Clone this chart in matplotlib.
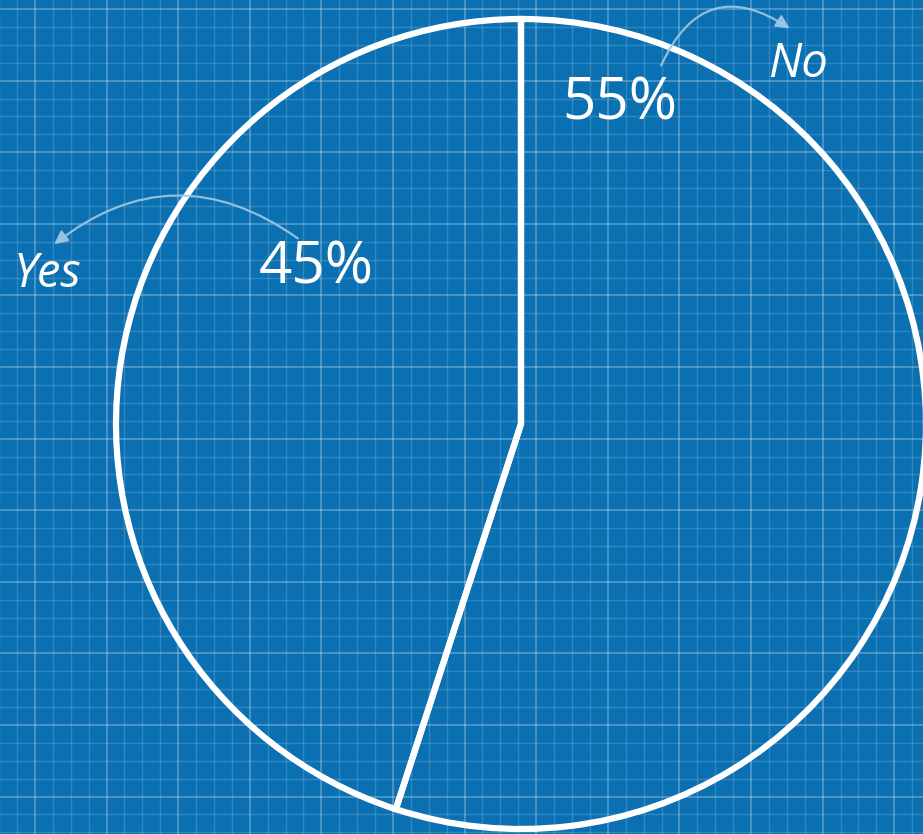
import numpy as np
import matplotlib.pyplot as plt
from matplotlib.patches import FancyArrowPatch

# ── Data ─────────────────────────────────────────────────────────────────────
labels = ['No', 'Yes']
values = [55, 45]
pct_text = [f'{v}%' for v in values]

BG = '#0a70b2'
W, H = 923, 834

fig = plt.figure(figsize=(W / 100, H / 100), dpi=100)
fig.patch.set_facecolor(BG)
ax = fig.add_axes([0, 0, 1, 1])
ax.set_facecolor(BG)

# ── Blueprint grid ────────────────────────────────────────────────────────────
step = 17.9
for i, x in enumerate(np.arange(35 - 2 * step, W, step)):
    major = (i % 4) == 2
    ax.axvline(x, color='white', lw=1.3 if major else 1.0,
               alpha=0.28 if major else 0.16, zorder=0)
for i, y in enumerate(np.arange(9, H, step)):
    major = (i % 4) == 0
    ax.axhline(y, color='white', lw=1.3 if major else 1.0,
               alpha=0.28 if major else 0.16, zorder=0)

# ── Pie (y axis runs downward, so angles are mirrored) ────────────────────────
ax.pie(values, startangle=-90, counterclock=True, center=(521, 424), radius=405,
       wedgeprops=dict(facecolor='none', edgecolor='white', linewidth=4.5),
       frame=True)
ax.set_xlim(0, W)
ax.set_ylim(H, 0)
ax.set_aspect('equal')
ax.axis('off')

# ── Labels and arrows ─────────────────────────────────────────────────────────
font = 'Open Sans'
ax.text(620, 104, pct_text[0], color='white', fontsize=42, family=font,
        ha='center', va='center')
ax.text(798, 64, labels[0], color='white', fontsize=34, family=font,
        style='italic', ha='center', va='center')
ax.text(316, 268, pct_text[1], color='white', fontsize=42, family=font,
        ha='center', va='center')
ax.text(48, 274, labels[1], color='white', fontsize=34, family=font,
        style='italic', ha='center', va='center')

arrow_kw = dict(arrowstyle='-|>,head_length=8,head_width=4', color='#9cc8e6',
                lw=1.6, alpha=0.9, zorder=5)
ax.add_patch(FancyArrowPatch((660, 68), (792, 30),
                             connectionstyle='arc3,rad=-0.6', **arrow_kw))
ax.add_patch(FancyArrowPatch((300, 240), (52, 246),
                             connectionstyle='arc3,rad=0.38', **arrow_kw))

fig.savefig('out.png', dpi=100, facecolor=BG)
